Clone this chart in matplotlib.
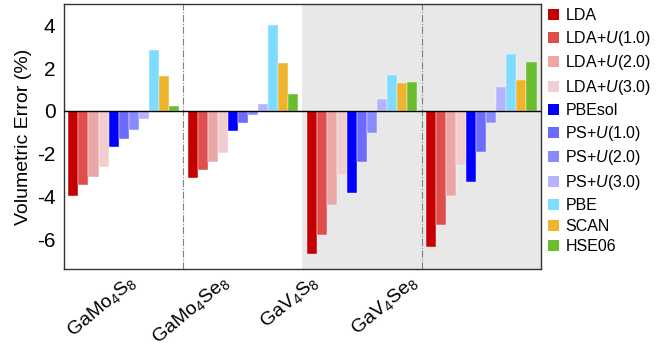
import numpy as np
import matplotlib
matplotlib.use('Agg')
from matplotlib import pyplot as plt
from matplotlib.patches import Patch

plt.rcParams['font.family'] = ['Liberation Sans', 'DejaVu Sans']
plt.rcParams['mathtext.fontset'] = 'custom'
plt.rcParams['mathtext.rm'] = 'Liberation Sans'
plt.rcParams['mathtext.it'] = 'Liberation Sans:italic'

# compounds and functionals
compounds = [r'GaMo$_4$S$_8$', r'GaMo$_4$Se$_8$', r'GaV$_4$S$_8$', r'GaV$_4$Se$_8$']
methods = ['LDA', r'LDA+$U$(1.0)', r'LDA+$U$(2.0)', r'LDA+$U$(3.0)',
           'PBEsol', r'PS+$U$(1.0)', r'PS+$U$(2.0)', r'PS+$U$(3.0)',
           'PBE', 'SCAN', 'HSE06']
colors = ['#c40000', '#e04d4d', '#eba6a6', '#f2cdcd',
          '#0000ff', '#6b6bff', '#8a8aff', '#b3b3ff',
          '#7ddcff', '#eeb42c', '#69bd2f']

# volumetric error (%) per compound, one value per method
gamo4s8 = [-3.98, -3.45, -3.08, -2.64, -1.70, -1.32, -0.89, -0.40, 2.86, 1.63, 0.22]
gamo4se8 = [-3.13, -2.77, -2.41, -1.98, -0.95, -0.59, -0.19, 0.33, 4.02, 2.25, 0.79]
gav4s8 = [-6.69, -5.79, -4.42, -3.02, -3.84, -2.41, -1.04, 0.54, 1.68, 1.31, 1.37]
gav4se8 = [-6.35, -5.33, -3.97, -2.55, -3.31, -1.91, -0.56, 1.12, 2.64, 1.43, 2.30]

data = np.array([gamo4s8, gamo4se8, gav4s8, gav4se8])

fig = plt.figure(figsize=(6.59, 3.5), dpi=100)
ax = fig.add_axes([0.097, 0.231, 0.724, 0.758])

w = 0.084
n = len(methods)
for k in range(n):
    x = np.arange(len(compounds)) + 0.5 + (k - (n - 1) / 2) * w
    ax.bar(x, data[:, k], width=w, color=colors[k], edgecolor='white',
           linewidth=0.3, zorder=2)

# shaded GaV4X8 half and dash-dot separators
ax.axvspan(2, 4, color='#e8e8e8', zorder=0, lw=0)
for xv in (1, 3):
    ax.axvline(xv, color='#808080', lw=0.8, ls='-.', zorder=1)
ax.axhline(0, color='black', lw=1.0, zorder=3)

ax.set_xlim(0, 4)
ax.set_ylim(-7.4, 5)
ax.set_yticks([-6, -4, -2, 0, 2, 4])
ax.set_yticklabels(['-6', '-4', '-2', '0', '2', '4'])
ax.tick_params(axis='y', length=0, labelsize=15, pad=6)
ax.tick_params(axis='x', length=0, labelsize=14, pad=2)
ax.set_ylabel('Volumetric Error (%)', fontsize=14, labelpad=4)

label_pos = [0.53, 1.31, 2.06, 2.89]
ax.set_xticks(label_pos)
ax.set_xticklabels(compounds, rotation=40, ha='right', va='top',
                   rotation_mode='anchor')

for sp in ax.spines.values():
    sp.set_color('#333333')
    sp.set_linewidth(1.0)

handles = [Patch(facecolor=c, edgecolor='none') for c in colors]
fig.legend(handles, methods, loc='upper left', bbox_to_anchor=(0.819, 1.0),
           frameon=False, fontsize=11.5, handlelength=0.7, handleheight=0.7,
           handletextpad=0.4, labelspacing=0.36, borderaxespad=0.3,
           borderpad=0.2)

fig.savefig('out.png', dpi=100)
